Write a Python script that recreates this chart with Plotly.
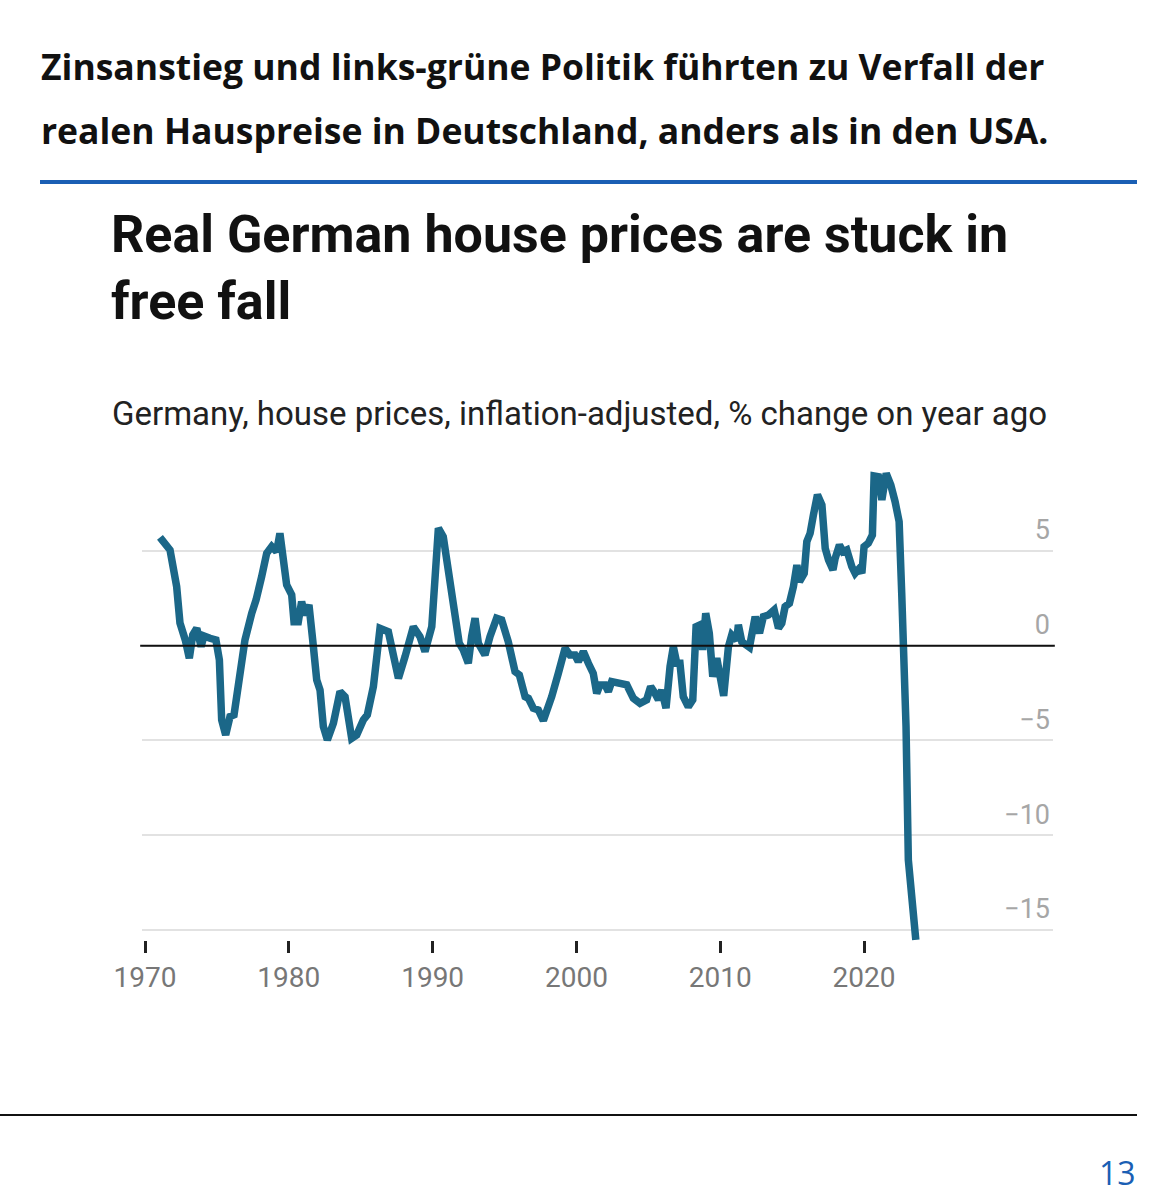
import plotly.graph_objects as go

# Germany, real house prices, % change on year ago
years = [
    1971.04, 1971.74, 1972.2, 1972.43, 1972.8, 1973.08, 1973.32, 1973.6, 1973.9, 1974.1,
    1974.52, 1974.93, 1975.17, 1975.33, 1975.61, 1975.91, 1976.19, 1976.6, 1976.95, 1977.42,
    1977.72, 1978.11, 1978.46, 1978.81, 1979.15, 1979.38, 1979.66, 1979.85, 1980.2, 1980.36,
    1980.66, 1980.89, 1981.12, 1981.4, 1981.66, 1981.94, 1982.17, 1982.4, 1982.68, 1983.1,
    1983.56, 1983.91, 1984.37, 1984.72, 1985.18, 1985.46, 1985.88, 1986.34, 1986.92, 1987.27,
    1987.62, 1988.08, 1988.66, 1989.12, 1989.47, 1989.94, 1990.4, 1990.74, 1991.2, 1991.55,
    1991.85, 1992.13, 1992.48, 1992.71, 1992.95, 1993.18, 1993.64, 1993.99, 1994.45, 1994.8,
    1995.26, 1995.73, 1996.03, 1996.43, 1996.66, 1997.0, 1997.35, 1997.7, 1998.05, 1998.28,
    1998.74, 1999.21, 1999.55, 1999.9, 2000.13, 2000.48, 2000.83, 2001.17, 2001.41, 2001.64,
    2001.99, 2002.22, 2002.45, 2003.03, 2003.5, 2003.96, 2004.42, 2004.88, 2005.16, 2005.46,
    2005.7, 2005.93, 2006.23, 2006.51, 2006.74, 2006.98, 2007.2, 2007.43, 2007.78, 2008.09,
    2008.32, 2008.6, 2008.78, 2008.99, 2009.24, 2009.48, 2009.76, 2010.24, 2010.57, 2010.8,
    2011.15, 2011.26, 2011.5, 2012.03, 2012.43, 2012.73, 2013.0, 2013.35, 2013.75, 2014.05,
    2014.28, 2014.51, 2014.81, 2015.09, 2015.33, 2015.51, 2015.84, 2016.02, 2016.25, 2016.48,
    2016.76, 2017.07, 2017.3, 2017.53, 2017.84, 2017.99, 2018.29, 2018.53, 2018.8, 2019.15,
    2019.38, 2019.68, 2019.85, 2020.0, 2020.3, 2020.58, 2020.7, 2021.0, 2021.24, 2021.54,
    2021.86, 2022.16, 2022.44, 2022.62, 2022.78, 2022.92, 2023.08, 2023.32, 2023.6,
]
change = [
    5.72, 5.05, 3.12, 1.2, 0.3, -0.66, 0.57, 0.92, -0.05, 0.51,
    0.39, 0.3, -0.75, -3.92, -4.71, -3.74, -3.65, -1.81, 0.3, 1.71,
    2.41, 3.64, 4.88, 5.23, 4.96, 5.93, 4.52, 3.21, 2.68, 1.27,
    1.27, 2.32, 1.62, 2.15, 0.3, -1.81, -2.34, -4.27, -4.97, -4.09,
    -2.42, -2.69, -4.89, -4.71, -3.92, -3.65, -2.16, 0.92, 0.74, -0.75,
    -1.72, -0.58, 1.0, 0.48, -0.31, 1.0, 6.2, 5.75, 3.64, 1.89,
    0.13, -0.22, -0.93, 0.48, 1.45, 0.13, -0.49, 0.48, 1.45, 1.36,
    0.21, -1.37, -1.54, -2.69, -2.78, -3.3, -3.39, -3.95, -3.3, -2.69,
    -1.46, -0.14, -0.49, -0.49, -0.84, -0.31, -0.93, -1.46, -2.51, -2.07,
    -2.07, -2.42, -1.9, -1.98, -2.07, -2.78, -3.04, -2.86, -2.16, -2.51,
    -2.86, -2.34, -3.3, -1.1, -0.05, -0.93, -0.93, -2.69, -3.22, -2.86,
    1.0, 1.1, -0.22, 1.71, 0.66, -1.63, -0.66, -2.65, -0.05, 0.57,
    0.3, 1.1, 0.21, -0.08, 1.53, 0.66, 1.53, 1.62, 1.89, 0.92,
    1.18, 2.06, 2.24, 3.12, 4.26, 3.38, 3.82, 5.49, 5.93, 6.9,
    7.96, 7.43, 5.14, 4.52, 4.0, 4.61, 5.32, 4.96, 5.05, 4.17,
    3.82, 4.08, 3.82, 5.23, 5.41, 5.84, 8.96, 8.92, 7.69, 9.1,
    8.48, 7.6, 6.55, 2.77, -0.05, -4.27, -11.3, -13.77, -15.53,
]

x_ticks = [1970, 1980, 1990, 2000, 2010, 2020]
y_ticks = [-15, -10, -5, 0, 5]

W, H = 1174, 1200


def py(px):
    # pixel row -> paper fraction
    return 1 - px / H


fig = go.Figure()
fig.add_trace(go.Scatter(
    x=years, y=change, mode="lines",
    line=dict(color="#1b6788", width=7.5),
    hoverinfo="x+y", showlegend=False,
))

# zero line drawn over the series
fig.add_shape(type="line", xref="x domain", yref="y", x0=-0.002, x1=1.002, y0=0, y1=0,
              line=dict(color="#111111", width=2), layer="above")

# page decorations
fig.add_shape(type="line", xref="paper", yref="paper", x0=40 / W, x1=1137 / W,
              y0=py(182), y1=py(182), line=dict(color="#1a5fb4", width=4))
fig.add_shape(type="line", xref="paper", yref="paper", x0=0, x1=1137 / W,
              y0=py(1115), y1=py(1115), line=dict(color="#111111", width=2))

header = ["Zinsanstieg und links-grüne Politik führten zu Verfall der",
          "realen Hauspreise in Deutschland, anders als in den USA."]
for txt, ypx in zip(header, [66, 130]):
    fig.add_annotation(text=txt, xref="paper", yref="paper", x=39 / W, y=py(ypx),
                       xanchor="left", yanchor="middle", showarrow=False,
                       font=dict(family="Open Sans", size=35.5, color="#111111", weight=700))

title = ["Real German house prices are stuck in", "free fall"]
for txt, ypx in zip(title, [234, 301]):
    fig.add_annotation(text=txt, xref="paper", yref="paper", x=109 / W, y=py(ypx),
                       xanchor="left", yanchor="middle", showarrow=False,
                       font=dict(family="Roboto", size=52, color="#111111", weight=700))

fig.add_annotation(text="Germany, house prices, inflation-adjusted, % change on year ago",
                   xref="paper", yref="paper", x=110 / W, y=py(414),
                   xanchor="left", yanchor="middle", showarrow=False,
                   font=dict(family="Roboto", size=33, color="#222222"))

fig.add_annotation(text="13", xref="paper", yref="paper", x=1138 / W, y=py(1172),
                   xanchor="right", yanchor="middle", showarrow=False,
                   font=dict(family="Open Sans", size=32, color="#1a5fb4"))

fig.update_layout(
    width=W, height=H,
    margin=dict(l=0, r=0, t=0, b=0, autoexpand=False),
    paper_bgcolor="white", plot_bgcolor="white",
    font=dict(family="Roboto"),
    xaxis=dict(
        domain=[142 / W, 1053 / W],
        range=[1969.79, 2033.14],
        anchor="free", position=py(940),
        tickmode="array", tickvals=x_ticks,
        ticks="outside", ticklen=12, tickwidth=2.5, tickcolor="#222222",
        showgrid=False, zeroline=False, showline=False,
        tickfont=dict(family="Roboto", size=28, color="#777777"),
    ),
    yaxis=dict(
        domain=[py(950), py(460)],
        range=[-16.06, 9.8],
        side="right", ticklabelposition="inside",
        tickmode="array", tickvals=y_ticks,
        ticklabelshift=-21,
        showgrid=True, gridcolor="#e2e2e2", gridwidth=2,
        zeroline=False, showline=False, ticks="",
        tickfont=dict(family="Roboto", size=27, color="#a6a6a6"),
    ),
)

# drop the browser's default body margin so the figure sits at the page corner
fig.write_html("out.html", config={"displayModeBar": False},
               post_script="document.body.style.margin = '0';")
